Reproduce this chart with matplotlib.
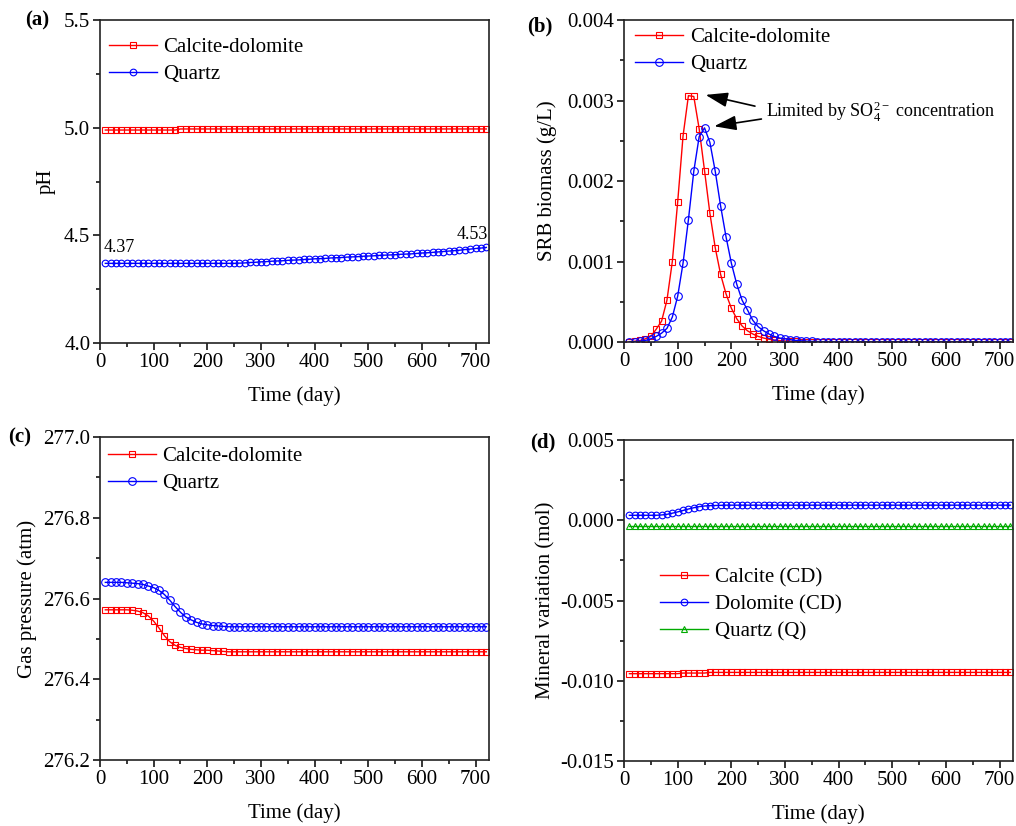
import numpy as np
import matplotlib.pyplot as plt
from matplotlib.ticker import MultipleLocator, FormatStrFormatter

plt.rcParams['font.family'] = ['Liberation Serif', 'DejaVu Serif']
plt.rcParams['mathtext.fontset'] = 'custom'
plt.rcParams['mathtext.rm'] = 'Liberation Serif'
plt.rcParams['mathtext.it'] = 'Liberation Serif:italic'
plt.rcParams['mathtext.bf'] = 'Liberation Serif:bold'
plt.rcParams['axes.unicode_minus'] = False
plt.rcParams['font.size'] = 15

# sampling times (day)
days = np.arange(10, 721, 10)

# (a) pH
ph_cd = [4.989] * 14 + [4.994] * 58
ph_q = [4.370] * 25 + [
    4.371, 4.372, 4.374, 4.375, 4.377, 4.378, 4.380, 4.381, 4.382, 4.384,
    4.385, 4.386, 4.388, 4.389, 4.391, 4.392, 4.393, 4.395, 4.396, 4.397,
    4.399, 4.400, 4.401, 4.403, 4.404, 4.405, 4.407, 4.408, 4.409, 4.410,
    4.412, 4.413, 4.414, 4.416, 4.418, 4.419, 4.421, 4.423, 4.425, 4.427,
    4.429, 4.431, 4.434, 4.436, 4.439, 4.441, 4.444]

# (b) SRB biomass (g/L)
srb_cd = [
    0.000005, 0.00001, 0.00002, 0.00004, 0.00007, 0.00016, 0.00026, 0.00052,
    0.00100, 0.00174, 0.00256, 0.00306, 0.00305, 0.00265, 0.00213, 0.00160,
    0.00117, 0.00084, 0.00060, 0.00042, 0.00029, 0.00020, 0.00014, 0.00010,
    0.00007, 0.00005, 0.000035, 0.000025, 0.000018, 0.000013, 0.00001,
    0.000007, 0.000005, 0.000004, 0.000003] + [0.000002] * 10 + [0.000001] * 27
srb_q = [
    0.000003, 0.000005, 0.00001, 0.00002, 0.00004, 0.00007, 0.00011, 0.00017,
    0.00031, 0.00057, 0.00098, 0.00152, 0.00212, 0.00255, 0.00266, 0.00248,
    0.00212, 0.00169, 0.00131, 0.00098, 0.00072, 0.00052, 0.00040, 0.00027,
    0.00019, 0.00014, 0.00010, 0.00007, 0.00005, 0.00004, 0.00003, 0.00002,
    0.000015, 0.000011, 0.000008, 0.000006, 0.000005, 0.000004, 0.000003,
    0.000003] + [0.000002] * 10 + [0.000001] * 22

# (c) gas pressure (atm)
gas_cd = [276.572] * 5 + [
    276.571, 276.569, 276.565, 276.557, 276.544, 276.527, 276.508, 276.493,
    276.484, 276.479, 276.476, 276.474, 276.473, 276.472, 276.472, 276.471,
    276.470, 276.469] + [276.468] * 49
gas_q = [276.640] * 4 + [
    276.639, 276.638, 276.637, 276.635, 276.631, 276.627, 276.620, 276.610,
    276.596, 276.580, 276.566, 276.554, 276.547, 276.541, 276.537, 276.535,
    276.533, 276.532, 276.531] + [276.530] * 49

# (d) mineral variation (mol)
calcite = [-0.00956] * 10 + [-0.00952] * 5 + [-0.00948] * 57
dolomite = [0.00031] * 6 + [
    0.00033, 0.00037, 0.00044, 0.00052, 0.00061, 0.00070, 0.00078, 0.00085,
    0.00089, 0.00091, 0.00092, 0.00093] + [0.00094] * 54
quartz = [-0.00036] * 72

RED = '#FF0000'
BLUE = '#0000FF'
GREEN = '#00AA00'


def series(ax, y, color, marker, label, ms=4.8):
    ax.plot(days, y, color=color, lw=1.0, marker=marker, ms=ms,
            mfc='none', mec=color, mew=0.8, label=label)


def style(ax, ylim, ystep, fmt, ylabel, ylab_x):
    ax.set_xlim(0, 725)
    ax.set_ylim(*ylim)
    ax.xaxis.set_major_locator(MultipleLocator(100))
    ax.xaxis.set_minor_locator(MultipleLocator(50))
    ax.yaxis.set_major_locator(MultipleLocator(ystep))
    ax.yaxis.set_minor_locator(MultipleLocator(ystep / 2))
    ax.yaxis.set_major_formatter(FormatStrFormatter(fmt))
    ax.tick_params(which='major', direction='out', length=5, width=1.1,
                   labelsize=15, pad=2)
    ax.tick_params(which='minor', direction='out', length=3, width=1.1)
    for s in ax.spines.values():
        s.set_linewidth(1.2)
        s.set_color('#222222')
    ax.set_xlabel('Time (day)')
    ax.set_ylabel(ylabel)
    ax.yaxis.set_label_coords(ylab_x, 0.5)
    ax.xaxis.set_label_coords(0.5, -0.135)


fig = plt.figure(figsize=(10.16, 8.26), dpi=100)
ax_a = fig.add_axes([0.0984, 0.5847, 0.3829, 0.3911])
ax_b = fig.add_axes([0.6142, 0.5859, 0.3829, 0.3899])
ax_c = fig.add_axes([0.0984, 0.0799, 0.3829, 0.3910])
ax_d = fig.add_axes([0.6142, 0.0787, 0.3829, 0.3886])

leg_kw = dict(frameon=False, handlelength=2.3, handletextpad=0.3,
              labelspacing=0.35, fontsize=15, borderaxespad=0)

# (a)
series(ax_a, ph_cd, RED, 's', 'Calcite-dolomite')
series(ax_a, ph_q, BLUE, 'o', 'Quartz')
style(ax_a, (4.0, 5.5), 0.5, '%.1f', 'pH', -0.114)
ax_a.text(6, 4.405, '4.37', fontsize=13, va='bottom')
ax_a.text(723, 4.466, '4.53', fontsize=13, va='bottom', ha='right')
ax_a.legend(loc='upper left', bbox_to_anchor=(0.002, 0.972), **leg_kw)

# (b)
series(ax_b, srb_cd, RED, 's', 'Calcite-dolomite')
series(ax_b, srb_q, BLUE, 'o', 'Quartz', ms=5.5)
style(ax_b, (0, 0.004), 0.001, '%.3f', 'SRB biomass (g/L)', -0.172)
arrow = dict(arrowstyle='-|>,head_length=0.9,head_width=0.3',
             color='black', lw=1.2, mutation_scale=15, shrinkA=0, shrinkB=0)
ax_b.annotate('', xy=(152, 0.00307), xytext=(244, 0.00293), arrowprops=arrow)
ax_b.annotate('', xy=(168, 0.00268), xytext=(256, 0.00277), arrowprops=arrow)
ax_b.text(264, 0.00286, r'Limited by SO$_4^{2-}$ concentration',
          fontsize=13, va='center')
ax_b.legend(loc='upper left', bbox_to_anchor=(0.008, 1.003), **leg_kw)

# (c)
series(ax_c, gas_cd, RED, 's', 'Calcite-dolomite')
series(ax_c, gas_q, BLUE, 'o', 'Quartz', ms=5.5)
style(ax_c, (276.2, 277.0), 0.2, '%.1f', 'Gas pressure (atm)', -0.162)
ax_c.legend(loc='upper left', bbox_to_anchor=(0.0, 0.997), **leg_kw)

# (d)
series(ax_d, calcite, RED, 's', 'Calcite (CD)')
series(ax_d, dolomite, BLUE, 'o', 'Dolomite (CD)')
series(ax_d, quartz, GREEN, '^', 'Quartz (Q)')
style(ax_d, (-0.015, 0.005), 0.005, '%.3f', 'Mineral variation (mol)', -0.175)
ax_d.legend(loc='center left', bbox_to_anchor=(0.072, 0.488), **leg_kw)

# panel tags
for tag, x, y in [('(a)', 0.025, 0.975), ('(b)', 0.519, 0.968),
                  ('(c)', 0.008, 0.470), ('(d)', 0.522, 0.464)]:
    fig.text(x, y, tag, fontsize=15, fontweight='bold', va='center')

fig.savefig('out.png', dpi=100)
